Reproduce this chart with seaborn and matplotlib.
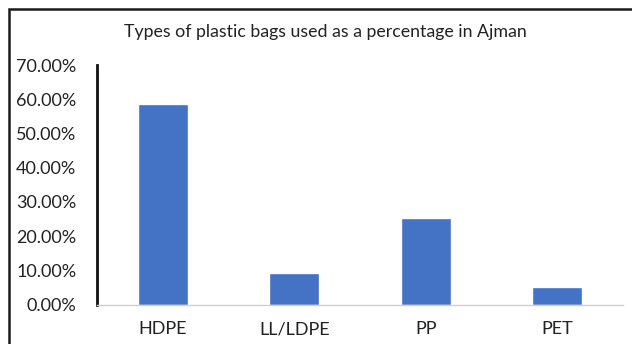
import matplotlib
matplotlib.use("Agg")
import matplotlib.pyplot as plt
from matplotlib.patches import Rectangle
from matplotlib.ticker import FuncFormatter
import seaborn as sns
import pandas as pd

# Share of each plastic bag type (percent)
categories = ["HDPE", "LL/LDPE", "PP", "PET"]
shares = [58.6, 9.1, 25.4, 5.2]
title = "Types of plastic bags used as a percentage in Ajman"
y_ticks = [0, 10, 20, 30, 40, 50, 60, 70]

sns.set_style("white")
plt.rcParams["font.family"] = ["Lato", "DejaVu Sans"]

W, H = 632, 344
fig = plt.figure(figsize=(W / 100, H / 100), dpi=100)
ax = fig.add_axes([97 / W, 1 - 304.5 / H, (623 - 97) / W, (304.5 - 65) / H])

df = pd.DataFrame({"type": categories, "share": shares})
sns.barplot(data=df, x="type", y="share", color="#4472C4", saturation=1,
            width=0.38, ax=ax)

ax.set_ylim(0, 70)
ax.set_xlim(-0.5, len(categories) - 0.5)
ax.set_yticks(y_ticks)
ax.yaxis.set_major_formatter(FuncFormatter(lambda v, _: f"{v:.2f}%"))
ax.set_xlabel("")
ax.set_ylabel("")
ax.tick_params(axis="both", length=0, labelsize=13, colors="#222222")
ax.tick_params(axis="y", pad=15)
ax.tick_params(axis="x", pad=12)

for side in ("top", "right"):
    ax.spines[side].set_visible(False)
ax.spines["left"].set_color("#111111")
ax.spines["left"].set_linewidth(2)
ax.spines["bottom"].set_color("#d0d0d0")
ax.spines["bottom"].set_linewidth(1)

fig.text(325 / W, 1 - 32 / H, title, ha="center", va="center",
         fontsize=12.8, color="#222222")

# Chart frame: left and top edges
fig.patches.append(Rectangle((9 / W, -0.2), 1.0, 1.2 - 9 / H,
                             transform=fig.transFigure, fill=False,
                             edgecolor="#1a1a1a", linewidth=1.8))

fig.savefig("out.png", dpi=100)
